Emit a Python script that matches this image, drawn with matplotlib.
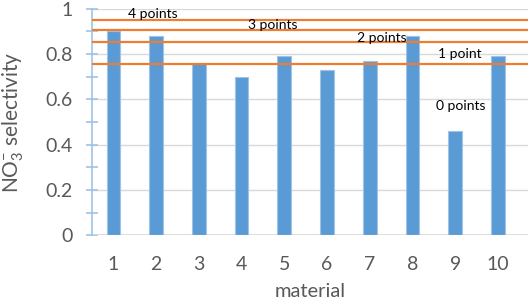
import numpy as np
import matplotlib
matplotlib.use("Agg")
import matplotlib.pyplot as plt
from matplotlib.ticker import MultipleLocator

# Data
materials = [1, 2, 3, 4, 5, 6, 7, 8, 9, 10]
selectivity = [0.90, 0.88, 0.76, 0.70, 0.79, 0.73, 0.77, 0.88, 0.46, 0.79]

# score thresholds (orange lines) and their labels
thresholds = [0.95, 0.905, 0.852, 0.758]
score_labels = ["4 points", "3 points", "2 points", "1 point", "0 points"]
score_label_x = [1.93, 4.74, 7.29, 9.12, 9.12]
score_label_y = [0.977, 0.928, 0.872, 0.80, 0.571]

y_ticks = [0, 0.2, 0.4, 0.6, 0.8, 1.0]
y_ticklabels = ["0", "0.2", "0.4", "0.6", "0.8", "1"]

BAR_COLOR = "#5B9BD5"
LINE_COLOR = "#ED7D31"
TEXT_GRAY = "#595959"

plt.rcParams['font.family'] = ['Lato', 'DejaVu Sans']
plt.rcParams['mathtext.fontset'] = 'custom'
plt.rcParams['mathtext.rm'] = 'Lato'
plt.rcParams['mathtext.it'] = 'Lato'

fig = plt.figure(figsize=(5.32, 3.01), dpi=100)
ax = fig.add_axes([0.173, 0.218, 0.819, 0.753])

ax.bar(materials, selectivity, width=0.32, color=BAR_COLOR,
       edgecolor="#9DC3E6", linewidth=0.8, zorder=2)

for t in thresholds:
    ax.axhline(t, color=LINE_COLOR, linewidth=1.6, zorder=3)

for lbl, x, y in zip(score_labels, score_label_x, score_label_y):
    ax.text(x, y, lbl, ha="center", va="center", fontsize=10, color="black", zorder=4)

ax.set_xlim(0.5, 10.7)
ax.set_ylim(0, 1)
ax.set_xticks(materials)
ax.set_yticks(y_ticks)
ax.set_yticklabels(y_ticklabels)
ax.yaxis.set_minor_locator(MultipleLocator(0.1))

ax.grid(axis="y", which="major", color="#D9D9D9", linewidth=1, zorder=0)
ax.set_axisbelow(True)

for s in ["top", "right", "bottom"]:
    ax.spines[s].set_visible(False)
ax.spines["left"].set_color("#9DC3E6")
ax.spines["left"].set_linewidth(1.2)
ax.axhline(0, color="#D9D9D9", linewidth=1.2, zorder=1)

ax.tick_params(axis="y", which="both", direction="inout", length=8,
               color="#9DC3E6", width=1.2, labelsize=14, labelcolor=TEXT_GRAY, pad=10)
ax.tick_params(axis="x", length=0, labelsize=14, labelcolor=TEXT_GRAY, pad=15)

ax.set_xlabel("material", fontsize=14.5, color=TEXT_GRAY, labelpad=7)
ax.set_ylabel(r"NO$_3^{-}$ selectivity", fontsize=15, color=TEXT_GRAY, labelpad=14)

fig.savefig("out.png", dpi=100)
